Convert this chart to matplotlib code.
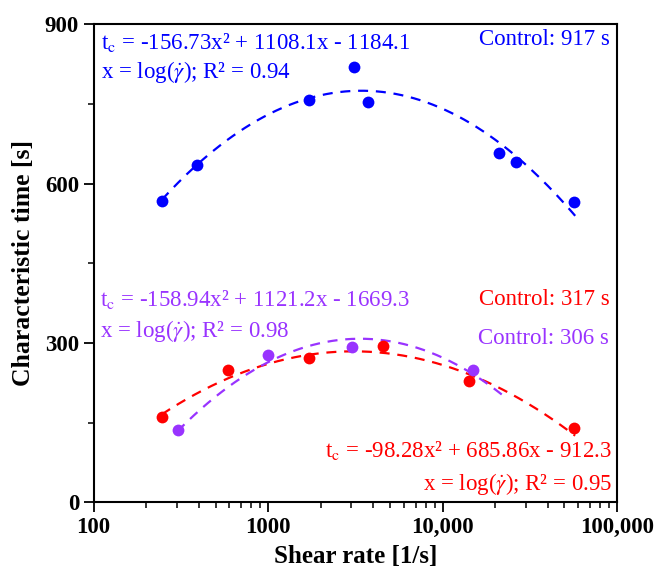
import numpy as np
import matplotlib
matplotlib.use("Agg")
import matplotlib.pyplot as plt
from matplotlib.ticker import FixedLocator, NullFormatter, LogLocator

plt.rcParams['font.family'] = ['Liberation Serif', 'DejaVu Serif']
plt.rcParams['mathtext.fontset'] = 'stix'

# ---- data ----
blue_rate = [248, 392, 1718, 3126, 3744, 21110, 26310, 57040]
blue_time = [568, 635, 758, 820, 754, 658, 640, 565]
red_rate = [248, 592, 1725, 4567, 14210, 57040]
red_time = [160, 250, 272, 294, 228, 140]
purple_rate = [304, 1004, 3031, 15040]
purple_time = [136, 277, 292, 250]

# quadratic fits in x = log10(shear rate)
blue_coef = [-156.73, 1108.1, -1184.1]
red_coef = [-98.28, 685.86, -912.3]
purple_coef = [-158.94, 1121.2, -1669.3]
blue_fit_range = [2.39, 4.77]
red_fit_range = [2.39, 4.76]
purple_fit_range = [2.48, 4.34]

blue_eq = ["t$_\\mathrm{c}$ = -156.73x² + 1108.1x - 1184.1",
           "x = log($\\dot{\\gamma}$); R² = 0.94"]
purple_eq = ["t$_\\mathrm{c}$ = -158.94x² + 1121.2x - 1669.3",
             "x = log($\\dot{\\gamma}$); R² = 0.98"]
red_eq = ["t$_\\mathrm{c}$ = -98.28x² + 685.86x - 912.3",
          "x = log($\\dot{\\gamma}$); R² = 0.95"]
blue_ctrl = "Control: 917 s"
red_ctrl = "Control: 317 s"
purple_ctrl = "Control: 306 s"

x_ticks = [100, 1000, 10000, 100000]
x_ticklabels = ["100", "1000", "10,000", "100,000"]
y_ticks = [0, 300, 600, 900]

BLUE = '#0000FF'
RED = '#FF0000'
PURPLE = '#9933FF'

fig = plt.figure(figsize=(6.55, 5.69), dpi=100)
ax = fig.add_axes([0.1429, 0.1169, 0.7991, 0.8409])

def draw(rate, time, coef, rng, color):
    xs = np.linspace(rng[0], rng[1], 200)
    ys = np.polyval(coef, xs)
    ln, = ax.plot(10 ** xs, ys, color=color, lw=1.6, zorder=2)
    ln.set_dashes([4.5, 3.5])
    ax.plot(rate, time, 'o', color=color, ms=8.5, mec='none', zorder=3)

draw(blue_rate, blue_time, blue_coef, blue_fit_range, BLUE)
draw(red_rate, red_time, red_coef, red_fit_range, RED)
draw(purple_rate, purple_time, purple_coef, purple_fit_range, PURPLE)

ax.set_xscale('log')
ax.set_xlim(100, 100000)
ax.set_ylim(0, 900)
ax.set_xticks(x_ticks)
ax.set_xticklabels(x_ticklabels)
ax.xaxis.set_minor_locator(LogLocator(base=10, subs=np.arange(2, 10)))
ax.xaxis.set_minor_formatter(NullFormatter())
ax.set_yticks(y_ticks)
ax.yaxis.set_minor_locator(FixedLocator([150, 450, 750]))

for sp in ax.spines.values():
    sp.set_linewidth(1.5)
ax.tick_params(which='major', direction='out', length=7, width=1.3,
               labelsize=16.5, top=False, right=False)
ax.tick_params(which='minor', direction='out', length=4, width=1.1,
               top=False, right=False)
for lab in ax.get_xticklabels() + ax.get_yticklabels():
    lab.set_fontweight('bold')

ax.set_xlabel("Shear rate [1/s]", fontsize=18, fontweight='bold', labelpad=5)
ax.set_ylabel("Characteristic time [s]", fontsize=18.5, fontweight='bold', labelpad=7)

fs = 16.5
def txt(x, y, s, color, ha):
    ax.text(x, y, s, transform=ax.transAxes, color=color, fontsize=fs,
            ha=ha, va='center')

# blue annotations
txt(0.015, 0.962, blue_eq[0], BLUE, 'left')
txt(0.015, 0.900, blue_eq[1], BLUE, 'left')
txt(0.987, 0.967, blue_ctrl, BLUE, 'right')
# purple / red annotations
txt(0.012, 0.425, purple_eq[0], PURPLE, 'left')
txt(0.012, 0.358, purple_eq[1], PURPLE, 'left')
txt(0.986, 0.425, red_ctrl, RED, 'right')
txt(0.985, 0.342, purple_ctrl, PURPLE, 'right')
txt(0.991, 0.108, red_eq[0], RED, 'right')
txt(0.991, 0.039, red_eq[1], RED, 'right')

fig.savefig("out.png", dpi=100)
